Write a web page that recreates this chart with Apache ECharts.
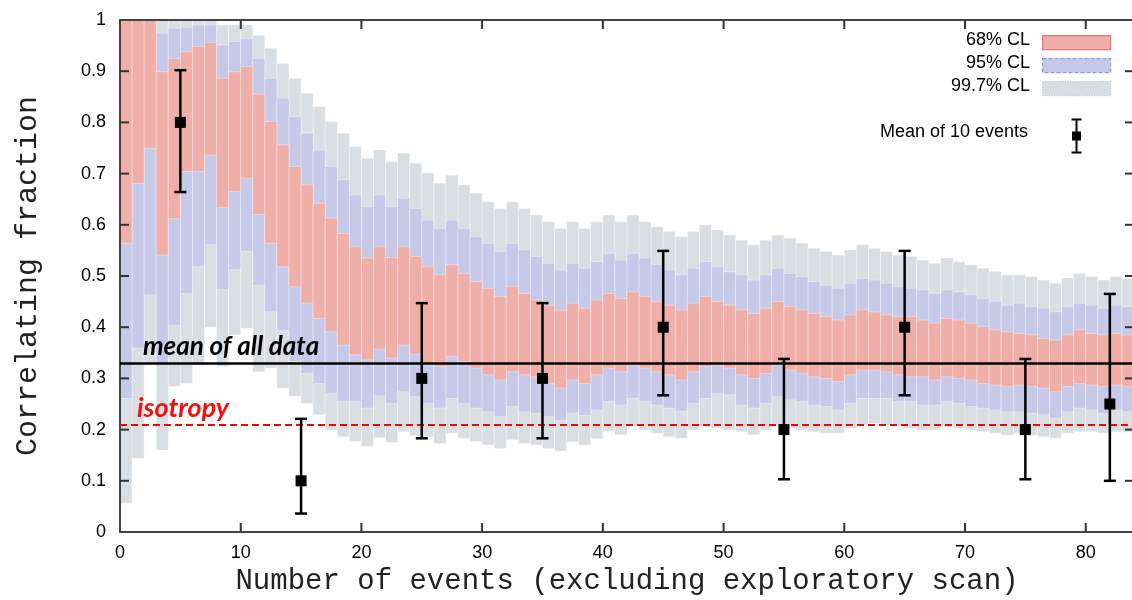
<!DOCTYPE html>
<html>
<head>
<meta charset="utf-8">
<script src="https://cdn.jsdelivr.net/npm/echarts@6/dist/echarts.min.js"></script>
<style>html,body{margin:0;padding:0;background:#fff}#c{width:1132px;height:600px}</style>
</head>
<body>
<div id="c"></div>
<script>
// Bar index n covers [n, n+1] on the x axis
const cl997Upper = [1,1,1,1,1,1,1,1,0.99,0.99,0.99,0.97,0.945,0.915,0.886,0.857,0.831,0.802,0.779,0.753,0.730,0.746,0.723,0.740,0.720,0.701,0.681,0.697,0.678,0.662,0.645,0.632,0.645,0.632,0.619,0.606,0.593,0.606,0.593,0.606,0.619,0.606,0.619,0.606,0.596,0.587,0.577,0.587,0.600,0.590,0.580,0.570,0.561,0.570,0.580,0.574,0.564,0.554,0.548,0.541,0.551,0.561,0.554,0.548,0.541,0.538,0.531,0.525,0.535,0.528,0.522,0.515,0.509,0.502,0.502,0.499,0.492,0.486,0.496,0.505,0.499,0.492,0.499,0.495];
const cl95Upper = [1,1,1,0.974,0.984,0.986,0.99,0.99,0.951,0.958,0.964,0.925,0.886,0.847,0.811,0.779,0.746,0.714,0.688,0.658,0.635,0.658,0.635,0.652,0.632,0.609,0.593,0.609,0.593,0.577,0.564,0.548,0.564,0.551,0.538,0.525,0.512,0.525,0.515,0.528,0.544,0.531,0.544,0.535,0.522,0.512,0.502,0.515,0.528,0.518,0.508,0.502,0.492,0.502,0.515,0.505,0.499,0.489,0.482,0.476,0.486,0.495,0.492,0.486,0.479,0.476,0.473,0.466,0.473,0.469,0.463,0.456,0.450,0.443,0.447,0.440,0.437,0.430,0.440,0.447,0.443,0.437,0.443,0.440];
const cl68Upper = [1,1,1,0.899,0.925,0.938,0.948,0.956,0.886,0.899,0.909,0.855,0.802,0.756,0.714,0.678,0.642,0.613,0.583,0.557,0.535,0.557,0.536,0.557,0.538,0.518,0.502,0.522,0.505,0.489,0.476,0.460,0.479,0.466,0.453,0.443,0.432,0.447,0.437,0.453,0.466,0.456,0.469,0.460,0.450,0.443,0.434,0.447,0.460,0.450,0.443,0.434,0.427,0.437,0.450,0.440,0.434,0.427,0.421,0.414,0.424,0.434,0.430,0.424,0.421,0.421,0.414,0.408,0.417,0.414,0.408,0.401,0.395,0.391,0.388,0.385,0.378,0.375,0.385,0.395,0.388,0.385,0.388,0.385];
const cl68Lower = [0.564,0.681,0.749,0.541,0.612,0.704,0.704,0.736,0.634,0.665,0.691,0.620,0.564,0.518,0.479,0.447,0.417,0.391,0.365,0.346,0.336,0.357,0.340,0.365,0.347,0.326,0.323,0.343,0.333,0.320,0.307,0.297,0.313,0.307,0.303,0.290,0.281,0.297,0.290,0.307,0.320,0.313,0.326,0.320,0.313,0.307,0.297,0.313,0.323,0.325,0.320,0.307,0.300,0.310,0.326,0.316,0.310,0.303,0.300,0.294,0.307,0.316,0.316,0.313,0.307,0.303,0.303,0.297,0.303,0.300,0.297,0.290,0.287,0.284,0.287,0.284,0.281,0.274,0.284,0.290,0.287,0.284,0.287,0.285];
const cl95Lower = [0.261,0.359,0.463,0.329,0.404,0.466,0.518,0.561,0.473,0.512,0.548,0.482,0.430,0.394,0.333,0.310,0.290,0.271,0.255,0.255,0.242,0.266,0.251,0.274,0.264,0.251,0.242,0.261,0.251,0.242,0.235,0.225,0.245,0.235,0.232,0.225,0.218,0.232,0.228,0.238,0.255,0.248,0.261,0.255,0.248,0.242,0.236,0.251,0.261,0.270,0.268,0.248,0.242,0.251,0.264,0.258,0.255,0.248,0.245,0.238,0.251,0.261,0.261,0.261,0.255,0.255,0.248,0.248,0.255,0.251,0.245,0.242,0.238,0.235,0.235,0.232,0.229,0.222,0.235,0.242,0.238,0.232,0.238,0.235];
const cl997Lower = [0.056,0.144,0.330,0.160,0.284,0.290,0.326,0.400,0.323,0.385,0.398,0.313,0.320,0.281,0.265,0.251,0.229,0.199,0.186,0.177,0.167,0.184,0.175,0.196,0.188,0.186,0.173,0.193,0.183,0.177,0.170,0.163,0.180,0.173,0.170,0.163,0.158,0.176,0.170,0.182,0.197,0.190,0.206,0.199,0.193,0.186,0.183,0.199,0.206,0.203,0.199,0.196,0.190,0.199,0.209,0.202,0.199,0.196,0.193,0.193,0.202,0.209,0.212,0.209,0.206,0.202,0.199,0.199,0.206,0.202,0.199,0.196,0.193,0.189,0.193,0.189,0.186,0.183,0.193,0.196,0.196,0.193,0.196,0.195];

// Mean of 10 events
const meanX = [5, 15, 25, 35, 45, 55, 65, 75, 82];
const meanY = [0.80, 0.10, 0.30, 0.30, 0.40, 0.20, 0.40, 0.20, 0.25];
const meanLo = [0.664, 0.036, 0.183, 0.183, 0.267, 0.103, 0.267, 0.103, 0.10];
const meanHi = [0.902, 0.221, 0.447, 0.447, 0.549, 0.338, 0.549, 0.338, 0.465];

const meanAllData = 0.332;
const isotropy = 0.211;

// Inward frame ticks
const xTickValues = [10, 20, 30, 40, 50, 60, 70, 80];
const yTickValues = [0.1, 0.2, 0.3, 0.4, 0.5, 0.6, 0.7, 0.8, 0.9];

const legendNames = ['68% CL', '95% CL', '99.7% CL', 'Mean of 10 events'];

function bandData(lo, hi) {
  return lo.map((v, i) => [i, v, hi[i]]);
}
function bandItem(fill) {
  return function (params, api) {
    const i = api.value(0);
    const p0 = api.coord([i, api.value(2)]);
    const p1 = api.coord([i + 1, api.value(1)]);
    const shape = echarts.graphic.clipRectByRect(
      { x: p0[0], y: p0[1], width: p1[0] - p0[0], height: p1[1] - p0[1] },
      { x: params.coordSys.x, y: params.coordSys.y, width: params.coordSys.width, height: params.coordSys.height }
    );
    if (!shape) return;
    return { type: 'rect', shape: shape, style: { fill: fill, stroke: 'rgba(255,255,255,0.35)', lineWidth: 1 } };
  };
}
const TICK_LEN = 9;
const tickStyle = { stroke: '#333', lineWidth: 2 };

const chart = echarts.init(document.getElementById('c'), null, { renderer: 'canvas' });
const axisFont = { fontFamily: 'Liberation Sans', fontSize: 18, color: '#000' };
function frame() { return { show: true, onZero: false, lineStyle: { color: '#444', width: 2 } }; }

chart.setOption({
  animation: false,
  grid: { left: 120, right: -2, top: 20, bottom: 68, containLabel: false, outerBoundsMode: 'none' },
  xAxis: [
    { type: 'value', min: 0, max: 84, interval: 10, position: 'bottom', z: 4,
      axisLine: frame(), axisTick: { show: false },
      axisLabel: Object.assign({ margin: 12, showMaxLabel: false }, axisFont),
      splitLine: { show: false },
      name: 'Number of events (excluding exploratory scan)', nameLocation: 'middle', nameGap: 35,
      nameTextStyle: { fontFamily: 'Liberation Mono', fontSize: 29, color: '#222' } },
    { type: 'value', min: 0, max: 84, interval: 10, position: 'top', z: 4,
      axisLine: frame(), axisTick: { show: false },
      axisLabel: { show: false }, splitLine: { show: false } }
  ],
  yAxis: [
    { type: 'value', min: 0, max: 1, interval: 0.1, position: 'left', z: 4,
      axisLine: frame(), axisTick: { show: false },
      axisLabel: Object.assign({ margin: 14 }, axisFont),
      splitLine: { show: false },
      name: 'Correlating fraction', nameLocation: 'middle', nameGap: 77,
      nameTextStyle: { fontFamily: 'Liberation Mono', fontSize: 30, color: '#222' } },
    { type: 'value', min: 0, max: 1, interval: 0.1, position: 'right', z: 4,
      axisLine: frame(), axisTick: { show: false },
      axisLabel: { show: false }, splitLine: { show: false } }
  ],
  series: [
    { name: legendNames[2], type: 'custom', renderItem: bandItem('#d9dee3'), data: bandData(cl997Lower, cl997Upper), encode: { x: 0, y: [1, 2] }, z: 1 },
    { name: legendNames[1], type: 'custom', renderItem: bandItem('#c6c9e8'), data: bandData(cl95Lower, cl95Upper), encode: { x: 0, y: [1, 2] }, z: 2 },
    { name: legendNames[0], type: 'custom', renderItem: bandItem('#f0aea9'), data: bandData(cl68Lower, cl68Upper), encode: { x: 0, y: [1, 2] }, z: 3 },
    { type: 'line', data: [], z: 5,
      markLine: { silent: true, symbol: 'none', animation: false,
        data: [
          { yAxis: meanAllData, lineStyle: { color: '#000', width: 2.5, type: 'solid' },
            label: { show: true, formatter: 'mean of all data', position: 'insideStartTop', distance: [23, 3],
              fontFamily: 'Lato', fontStyle: 'italic', fontWeight: 'bold', fontSize: 26, color: '#000' } },
          { yAxis: isotropy, lineStyle: { color: '#f00', width: 2, type: [7, 4] },
            label: { show: true, formatter: 'isotropy', position: 'insideStartTop', distance: [17, 3],
              fontFamily: 'Lato', fontStyle: 'italic', fontWeight: 'bold', fontSize: 27, color: '#f01010' } }
        ] } },
    { type: 'custom', z: 6, silent: true,
      data: xTickValues.map(v => [v, 0]), encode: { x: 0, y: 1 },
      renderItem: function (params, api) {
        const x = api.value(0);
        const b = api.coord([x, 0]);
        const t = api.coord([x, 1]);
        return { type: 'group', children: [
          { type: 'line', shape: { x1: b[0], y1: b[1], x2: b[0], y2: b[1] - TICK_LEN }, style: tickStyle },
          { type: 'line', shape: { x1: t[0], y1: t[1], x2: t[0], y2: t[1] + TICK_LEN }, style: tickStyle }
        ] };
      } },
    { type: 'custom', z: 6, silent: true,
      data: yTickValues.map(v => [0, v]), encode: { x: 0, y: 1 },
      renderItem: function (params, api) {
        const y = api.value(1);
        const l = api.coord([0, y]);
        const r = api.coord([84, y]);
        return { type: 'group', children: [
          { type: 'line', shape: { x1: l[0], y1: l[1], x2: l[0] + TICK_LEN, y2: l[1] }, style: tickStyle },
          { type: 'line', shape: { x1: r[0], y1: r[1], x2: r[0] - TICK_LEN, y2: r[1] }, style: tickStyle }
        ] };
      } },
    { name: legendNames[3], type: 'custom', z: 10,
      data: meanX.map((x, i) => [x, meanY[i], meanLo[i], meanHi[i]]),
      encode: { x: 0, y: [1, 2, 3] },
      renderItem: function (params, api) {
        const x = api.value(0);
        const c = api.coord([x, api.value(1)]);
        const lo = api.coord([x, api.value(2)]);
        const hi = api.coord([x, api.value(3)]);
        const st = { stroke: '#000', lineWidth: 2.5 };
        return { type: 'group', children: [
          { type: 'line', shape: { x1: c[0], y1: lo[1], x2: c[0], y2: hi[1] }, style: st },
          { type: 'line', shape: { x1: c[0] - 6, y1: lo[1], x2: c[0] + 6, y2: lo[1] }, style: st },
          { type: 'line', shape: { x1: c[0] - 6, y1: hi[1], x2: c[0] + 6, y2: hi[1] }, style: st },
          { type: 'rect', shape: { x: c[0] - 5.5, y: c[1] - 5.5, width: 11, height: 11 }, style: { fill: '#000' } }
        ] };
      } }
  ],
  graphic: [
    { type: 'text', right: 102, top: 31, style: { text: legendNames[0], font: '18px "Liberation Sans"', fill: '#000', textAlign: 'right' } },
    { type: 'text', right: 102, top: 54, style: { text: legendNames[1], font: '18px "Liberation Sans"', fill: '#000', textAlign: 'right' } },
    { type: 'text', right: 102, top: 77, style: { text: legendNames[2], font: '18px "Liberation Sans"', fill: '#000', textAlign: 'right' } },
    { type: 'text', right: 104, top: 123, style: { text: legendNames[3], font: '18px "Liberation Sans"', fill: '#000', textAlign: 'right' } },
    { type: 'rect', left: 1042, top: 35, shape: { width: 68, height: 14 }, style: { fill: '#f0aea9', stroke: '#e8767a', lineWidth: 1.2 } },
    { type: 'rect', left: 1042, top: 58, shape: { width: 68, height: 14 }, style: { fill: '#c6c9e8', stroke: '#8f9be0', lineWidth: 1.2, lineDash: [4, 2] } },
    { type: 'rect', left: 1042, top: 81, shape: { width: 68, height: 14 }, style: { fill: '#d9dee3', stroke: '#b8c0c8', lineWidth: 1.2, lineDash: [1, 1.5] } },
    { type: 'group', left: 1069, top: 117, children: [
      { type: 'line', shape: { x1: 6, y1: 0, x2: 6, y2: 33 }, style: { stroke: '#000', lineWidth: 2 } },
      { type: 'line', shape: { x1: 1, y1: 0, x2: 11, y2: 0 }, style: { stroke: '#000', lineWidth: 2 } },
      { type: 'line', shape: { x1: 1, y1: 33, x2: 11, y2: 33 }, style: { stroke: '#000', lineWidth: 2 } },
      { type: 'rect', shape: { x: 1.5, y: 12, width: 9, height: 9 }, style: { fill: '#000' } }
    ] }
  ]
});
</script>
</body>
</html>
